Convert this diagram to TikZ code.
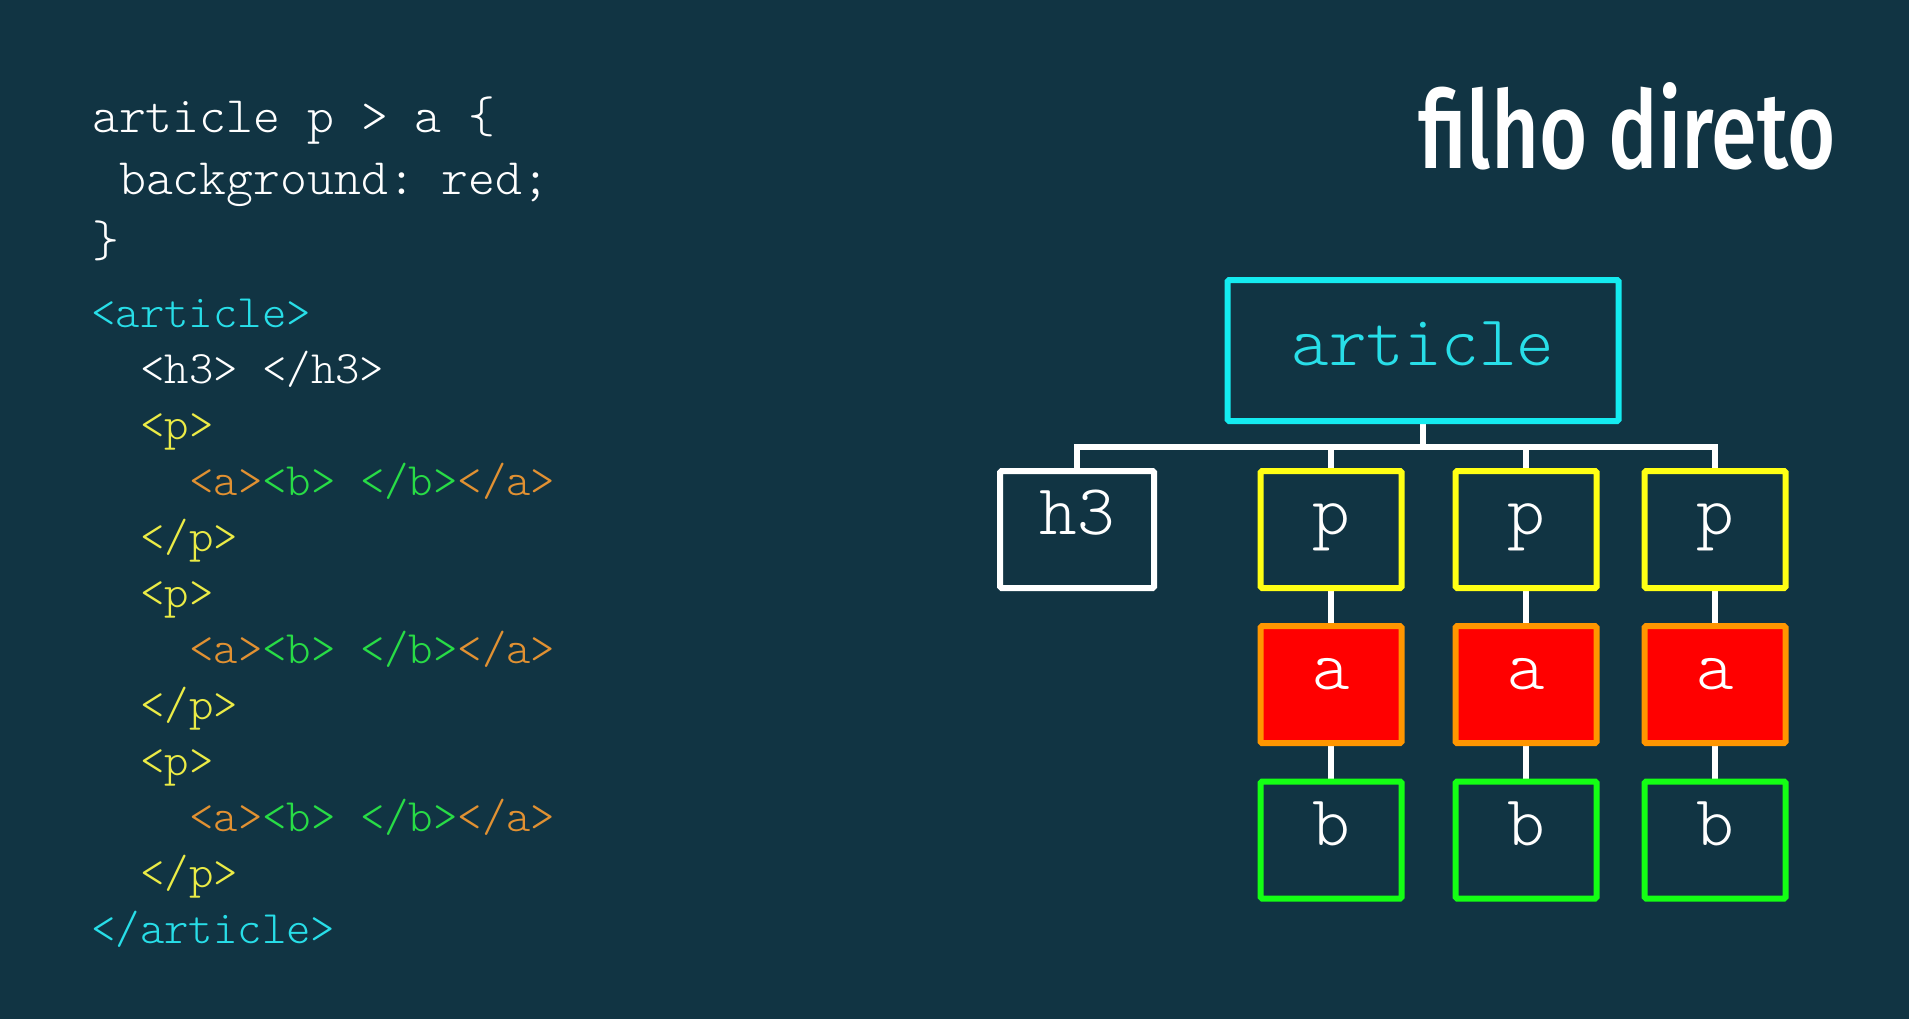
\documentclass[tikz,border=0pt]{standalone}
\usepackage{fontspec}
\usepackage{graphicx}
\newfontfamily\titlefont{Fira Sans Medium}
\newfontfamily\codefont{Latin Modern Mono Light}
\definecolor{bgc}{RGB}{17,52,67}
\definecolor{cyanbox}{RGB}{20,235,240}
\definecolor{cyantext}{RGB}{40,222,232}
\definecolor{yellowbox}{RGB}{255,255,20}
\definecolor{yellowtext}{RGB}{235,235,70}
\definecolor{orangebox}{RGB}{255,150,0}
\definecolor{orangetext}{RGB}{225,145,50}
\definecolor{greenbox}{RGB}{20,255,20}
\definecolor{greentext}{RGB}{40,220,70}
\definecolor{redfill}{RGB}{255,0,0}
\pgfdeclarelayer{bg}
\pgfdeclarelayer{wires}
\pgfsetlayers{bg,wires,main}
\tikzset{
  treebox/.style={draw, line width=6pt, rounded corners=1.5pt, inner sep=0pt,
    minimum width=141pt, minimum height=117pt,
    text height=20pt, text depth=10pt, text=white,
    font=\fontsize{71.6}{72}\selectfont\codefont},
  pbox/.style={treebox, draw=yellowbox},
  abox/.style={treebox, draw=orangebox, fill=redfill},
  bbox/.style={treebox, draw=greenbox},
  wire/.style={draw=white, line width=5.5pt},
  csscode/.style={anchor=base west, inner sep=0pt, text=white,
    font=\fontsize{51.2}{52}\selectfont\codefont\frenchspacing},
  htmlcode/.style={anchor=base west, inner sep=0pt, text=white,
    font=\fontsize{46.5}{47}\selectfont\codefont\frenchspacing}
}
\begin{document}
\begin{tikzpicture}[x=1pt,y=-1pt]
\begin{pgfonlayer}{bg}
  \fill[bgc] (0,0) rectangle (1909,1019);
\end{pgfonlayer}

% title
\node[anchor=base west, inner sep=0pt, text=white] (title) at (1418,169)
  {\resizebox{417pt}{86pt}{\titlefont filho direto}};

% CSS code
\node[csscode] (c1) at (92,133) {article p > a \{};
\node[csscode] (c2) at (119,195) {background: red;};
\node[csscode] (c3) at (92,257) {\}};

% HTML code
\node[htmlcode, text=cyantext] (h1) at (91,327) {<article>};
\node[htmlcode] (h2) at (140,383) {<h3> </h3>};
\node[htmlcode, text=yellowtext] (h3a) at (140,439) {<p>};
\node[htmlcode] (h4) at (189,495) {\textcolor{orangetext}{<a>}\textcolor{greentext}{<b> </b>}\textcolor{orangetext}{</a>}};
\node[htmlcode, text=yellowtext] (h5) at (140,551) {</p>};
\node[htmlcode, text=yellowtext] (h6) at (140,607) {<p>};
\node[htmlcode] (h7) at (189,663) {\textcolor{orangetext}{<a>}\textcolor{greentext}{<b> </b>}\textcolor{orangetext}{</a>}};
\node[htmlcode, text=yellowtext] (h8) at (140,719) {</p>};
\node[htmlcode, text=yellowtext] (h9) at (140,775) {<p>};
\node[htmlcode] (h10) at (189,831) {\textcolor{orangetext}{<a>}\textcolor{greentext}{<b> </b>}\textcolor{orangetext}{</a>}};
\node[htmlcode, text=yellowtext] (h11) at (140,887) {</p>};
\node[htmlcode, text=cyantext] (h12) at (91,943) {</article>};

% tree
\node[treebox, draw=cyanbox, text=cyantext, minimum width=391pt, minimum height=141pt,
  text height=30pt, text depth=0pt] (article) at (1423,350.5) {article};
\node[treebox, draw=white, minimum width=154pt] (hthree) at (1077,529.5) {h3};
\node[pbox] (p1) at (1331,529.5) {p};
\node[pbox] (p2) at (1526,529.5) {p};
\node[pbox] (p3) at (1715,529.5) {p};
\node[abox] (a1) at (1331,684.7) {a};
\node[abox] (a2) at (1526,684.7) {a};
\node[abox] (a3) at (1715,684.7) {a};
\node[bbox] (b1) at (1331,840) {b};
\node[bbox] (b2) at (1526,840) {b};
\node[bbox] (b3) at (1715,840) {b};
\coordinate (bar) at (1423,447);

\begin{pgfonlayer}{wires}
  \draw[wire] (article.south) -- (article.south |- bar);
  \draw[wire] (hthree.north) -- (hthree.north |- bar) -- (p3.north |- bar) -- (p3.north);
  \draw[wire] (p1.north) -- (p1.north |- bar);
  \draw[wire] (p2.north) -- (p2.north |- bar);
  \draw[wire] (p1.south) -- (a1.north);
  \draw[wire] (p2.south) -- (a2.north);
  \draw[wire] (p3.south) -- (a3.north);
  \draw[wire] (a1.south) -- (b1.north);
  \draw[wire] (a2.south) -- (b2.north);
  \draw[wire] (a3.south) -- (b3.north);
\end{pgfonlayer}
\end{tikzpicture}
\end{document}
